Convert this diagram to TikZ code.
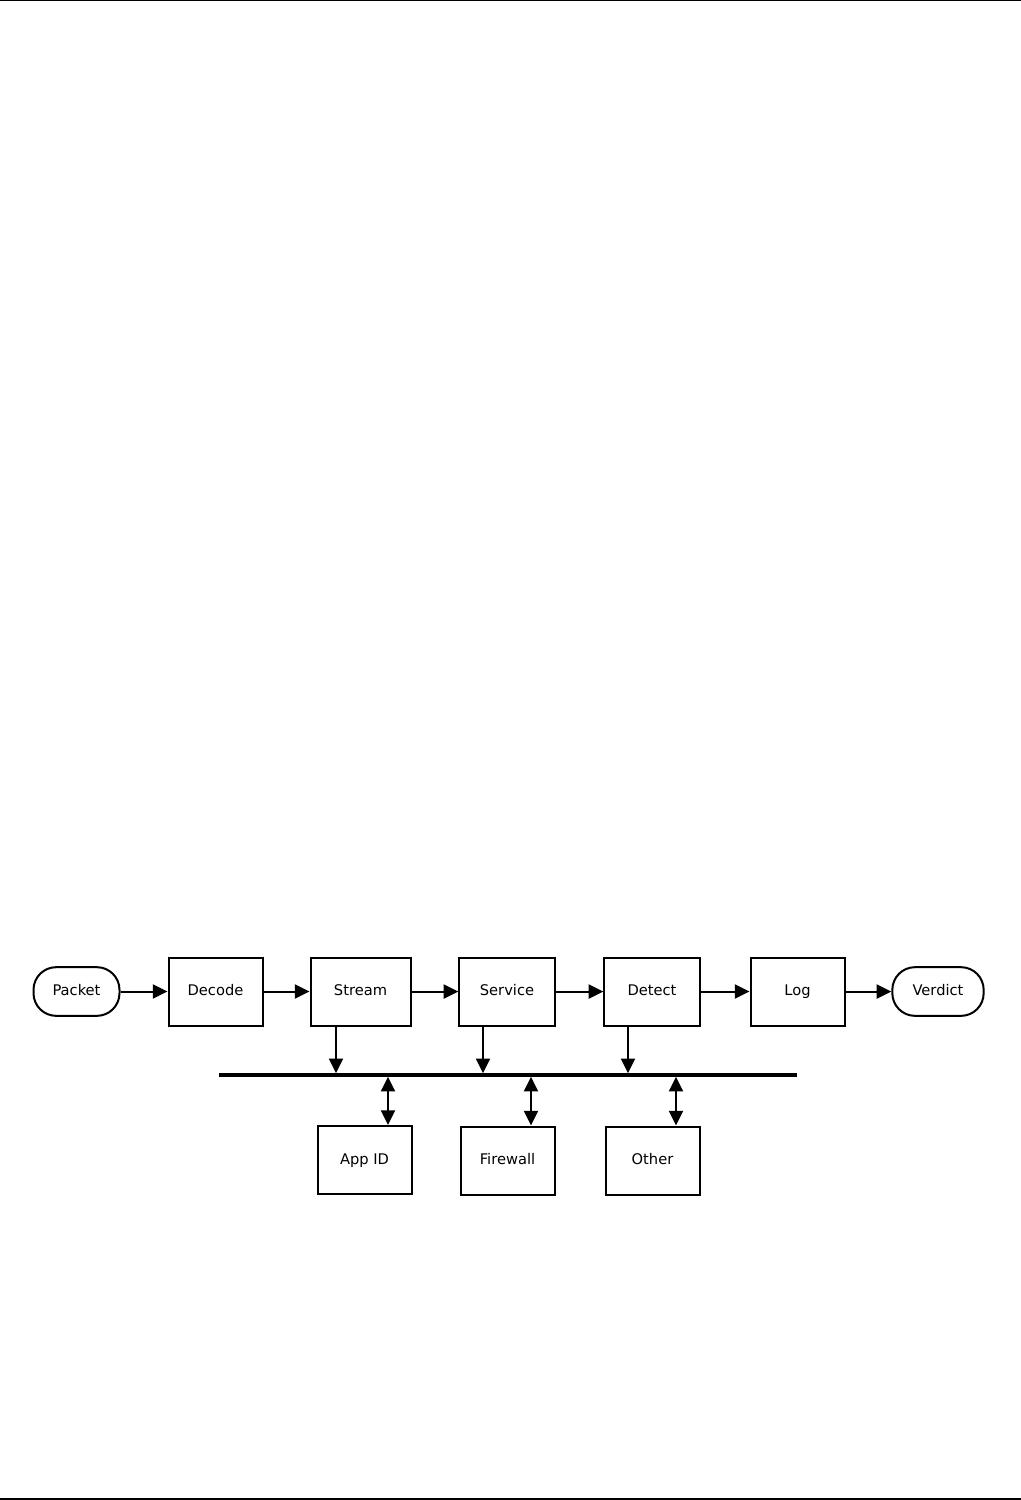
\documentclass[tikz,border=0pt]{standalone}
\usepackage{fontspec}
\setmainfont{DejaVu Sans}
\usetikzlibrary{arrows.meta}
\begin{document}
\begin{tikzpicture}[x=0.75pt,y=-0.75pt,
  lbl/.style={font=\fontsize{11pt}{13pt}\selectfont,text height=8pt,text depth=2pt},
  box/.style={draw,line width=1.5pt,minimum width=70.5pt,minimum height=51pt,inner sep=0pt,lbl},
  term/.style={draw,line width=1.5pt,rounded corners=17pt,minimum height=36.5pt,inner sep=0pt,lbl},
  arr/.style={line width=1.5pt,-{Triangle[length=11pt,width=10.5pt]}},
  darr/.style={line width=1.5pt,{Triangle[length=11pt,width=10.5pt]}-{Triangle[length=11pt,width=10.5pt]}},
  bus/.style={line width=3pt},
  rule/.style={line width=0.9pt}]
\useasboundingbox (0,0) rectangle (1021,1500);
\coordinate (tl) at (0,0.8); \coordinate (tr) at (1021,0.8);
\coordinate (bl) at (0,1499); \coordinate (br) at (1021,1499);
\draw[rule] (tl) -- (tr);
\draw[rule] (bl) -- (br);
% main row
\node[term,minimum width=64.5pt] (packet) at (76.5,991.5) {Packet};
\node[box] (decode) at (215.5,991.5) {Decode};
\node[box,minimum width=75pt] (stream) at (360.5,991.5) {Stream};
\node[box,minimum width=71.5pt] (service) at (507,991.5) {Service};
\node[box,minimum width=71.5pt] (detect) at (652,991.5) {Detect};
\node[box,minimum width=70.5pt] (log) at (797.5,991.5) {Log};
\node[term,minimum width=68.5pt] (verdict) at (938,991.5) {Verdict};
\draw[arr] (packet) -- (decode);
\draw[arr] (decode) -- (stream);
\draw[arr] (stream) -- (service);
\draw[arr] (service) -- (detect);
\draw[arr] (detect) -- (log);
\draw[arr] (log) -- (verdict);
% bus
\coordinate (busL) at (219,1075);
\coordinate (busR) at (797,1075);
\draw[bus] (busL) -- (busR);
\coordinate (b1) at (336,1073.2);
\coordinate (b2) at (483,1073.2);
\coordinate (b3) at (628,1073.2);
\draw[arr] (stream.south -| b1) -- (b1);
\draw[arr] (service.south -| b2) -- (b2);
\draw[arr] (detect.south -| b3) -- (b3);
% lower boxes
\node[box] (appid) at (364.5,1160) {App ID};
\node[box] (firewall) at (507.5,1160.5) {Firewall};
\node[box] (other) at (652.5,1160.5) {Other};
\coordinate (c1) at (388,1076.8);
\coordinate (c2) at (531,1076.8);
\coordinate (c3) at (676,1076.8);
\draw[darr] (c1) -- (appid.north -| c1);
\draw[darr] (c2) -- (firewall.north -| c2);
\draw[darr] (c3) -- (other.north -| c3);
\end{tikzpicture}
\end{document}
